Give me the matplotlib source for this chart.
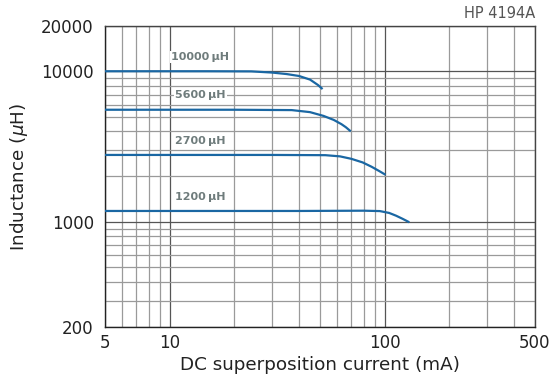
import matplotlib
matplotlib.use("Agg")
import matplotlib.pyplot as plt
from matplotlib.ticker import LogLocator, NullFormatter, FixedLocator

# nominal inductance of each curve
nominal = [10000, 5600, 2700, 1200]
labels = ["10000\u2009\u03bcH", "5600\u2009\u03bcH", "2700\u2009\u03bcH", "1200\u2009\u03bcH"]

# DC superposition current (mA) vs inductance (uH)
current_10000 = [5, 15, 24, 30, 35, 40, 45, 49, 51]
induct_10000 = [10000, 10000, 9980, 9800, 9580, 9300, 8800, 8100, 7700]

current_5600 = [5, 20, 37, 45, 52, 58, 63, 66, 69]
induct_5600 = [5550, 5550, 5520, 5350, 5050, 4750, 4450, 4250, 4030]

current_2700 = [5, 30, 53, 62, 70, 79, 87, 94, 100]
induct_2700 = [2780, 2780, 2770, 2720, 2620, 2480, 2320, 2180, 2070]

current_1200 = [5, 40, 80, 95, 105, 113, 121, 129]
induct_1200 = [1180, 1180, 1185, 1178, 1145, 1098, 1048, 1000]

x_ticks = [5, 10, 100, 500]
y_ticks = [200, 1000, 10000, 20000]

curves = [
    (current_10000, induct_10000),
    (current_5600, induct_5600),
    (current_2700, induct_2700),
    (current_1200, induct_1200),
]

plt.rcParams['font.family'] = ['DejaVu Sans']

fig = plt.figure(figsize=(5.52, 3.87), dpi=100)
ax = fig.add_axes([0.190, 0.155, 0.779, 0.778])

ax.set_xscale('log')
ax.set_yscale('log')
ax.set_xlim(5, 500)
ax.set_ylim(200, 20000)

# grid: all 1..9 multiples per decade
ax.xaxis.set_major_locator(FixedLocator(x_ticks))
ax.yaxis.set_major_locator(FixedLocator(y_ticks))
ax.xaxis.set_minor_locator(LogLocator(base=10, subs=range(1, 10)))
ax.yaxis.set_minor_locator(LogLocator(base=10, subs=range(1, 10)))
ax.xaxis.set_minor_formatter(NullFormatter())
ax.yaxis.set_minor_formatter(NullFormatter())
ax.set_xticklabels([str(v) for v in x_ticks])
ax.set_yticklabels([str(v) for v in y_ticks])

ax.grid(which='minor', color='#9a9a9a', lw=0.9)
ax.grid(which='major', color='#555555', lw=0.9)
ax.set_axisbelow(True)

ax.tick_params(which='both', length=0)
ax.tick_params(axis='y', pad=8, labelsize=12, labelcolor='#222222')
ax.tick_params(axis='x', pad=5, labelsize=12, labelcolor='#222222')

for s in ax.spines.values():
    s.set_color('#444444')
    s.set_linewidth(1.0)
ax.spines['left'].set_color('#222222')
ax.spines['bottom'].set_color('#222222')

for (cur, ind), lab in zip(curves, labels):
    ax.plot(cur, ind, color='#1a67a3', lw=1.6, zorder=3)
    ax.text(13.9, ind[0] * 1.245, lab,
            ha='center', va='center', fontsize=8, fontweight='bold',
            color='#6f7c7c', zorder=4,
            bbox=dict(facecolor='white', edgecolor='none', pad=1.0))

ax.set_xlabel('DC superposition current (mA)', fontsize=13.2, color='#222222', labelpad=3)
ax.set_ylabel('Inductance ($\\mu$H)', fontsize=13.2, color='#222222', labelpad=8)

fig.text(0.969, 0.985, 'HP 4194A', ha='right', va='top', fontsize=10.5, color='#555555')

fig.savefig('out.png', dpi=100)
